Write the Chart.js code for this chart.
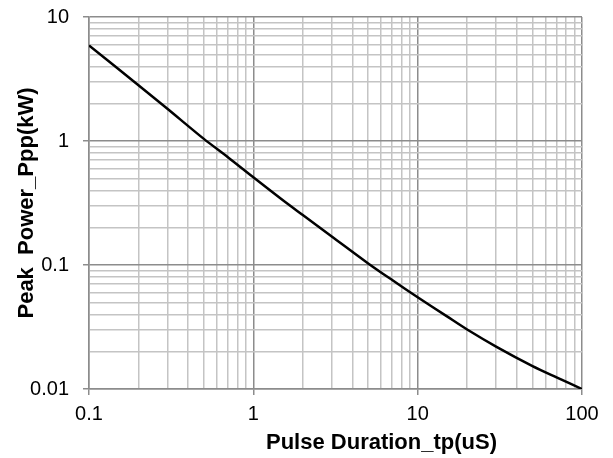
<!DOCTYPE html>
<html>
<head>
<meta charset="utf-8">
<script src="https://cdn.jsdelivr.net/npm/chart.js@4/dist/chart.umd.min.js"></script>
<style>
  html, body { margin: 0; padding: 0; background: #fff; }
  #wrap { width: 613px; height: 458px; }
</style>
</head>
<body>
<div id="wrap"><canvas id="myChart" width="613" height="458"></canvas></div>
<script>
// pulse duration tp (uS) and peak power Ppp (kW)
var pulseUs = [0.1, 0.2, 0.3, 0.5, 0.7, 1, 1.5, 2, 3, 5, 7, 10, 15, 20, 30, 50, 70, 100];
var peakKw  = [5.9, 2.82, 1.82, 1.04, 0.741, 0.51, 0.336, 0.253, 0.17, 0.103, 0.0756, 0.055, 0.0387, 0.0302, 0.022, 0.0153, 0.0124, 0.01];

var xDecades = [0.1, 1, 10, 100];
var yDecades = [0.01, 0.1, 1, 10];
var xTickLabels = ["0.1", "1", "10", "100"];
var yTickLabels = ["0.01", "0.1", "1", "10"];
var xTitle = "Pulse Duration_tp(uS)";
var yTitle = "Peak  Power_Ppp(kW)";

function logTicks(decades) {
    var out = [];
    for (var i = 0; i < decades.length; i++) {
        if (i == decades.length - 1) { out.push({ value: decades[i] }); break; }
        for (var m = 1; m < 10; m++) out.push({ value: +(decades[i] * m).toPrecision(3) });
    }
    return out;
}

function isDecade(v, decades) {
    return decades.some(d => Math.abs(v - d) < d * 1e-6);
}

var fam = "'Liberation Sans', Arial, sans-serif";

// the x title sits right of the plot centre in the original, so it is drawn by hand
var xTitlePlugin = {
    id: 'xTitle',
    afterDraw: function (chart) {
        var ctx = chart.ctx;
        var area = chart.chartArea;
        ctx.save();
        ctx.font = "bold 22px " + fam;
        ctx.fillStyle = '#000';
        ctx.textAlign = 'center';
        ctx.textBaseline = 'middle';
        ctx.fillText(xTitle, (area.left + area.right) / 2 + 46, chart.height - 15);
        ctx.restore();
    }
};

new Chart(document.getElementById('myChart'), {
    type: 'line',
    data: {
        datasets: [{
            data: pulseUs.map((x, i) => ({ x: x, y: peakKw[i] })),
            borderColor: '#000',
            borderWidth: 2.5,
            pointRadius: 0,
            tension: 0.3,
            fill: false
        }]
    },
    plugins: [xTitlePlugin],
    options: {
        responsive: false,
        animation: false,
        layout: { padding: { top: 17, right: 31, left: 0, bottom: 0 } },
        plugins: { legend: { display: false }, tooltip: { enabled: false } },
        scales: {
            x: {
                type: 'logarithmic',
                min: 0.1, max: 100,
                afterBuildTicks: (s) => { s.ticks = logTicks(xDecades); },
                afterFit: (s) => { s.height = 69; },
                ticks: {
                    autoSkip: false, maxRotation: 0, padding: 7, color: '#000',
                    font: { family: fam, size: 20 },
                    callback: function (v) {
                        var k = xDecades.findIndex(d => Math.abs(v - d) < d * 1e-6);
                        return k >= 0 ? xTickLabels[k] : '';
                    }
                },
                grid: {
                    color: (c) => isDecade(c.tick.value, xDecades) ? '#8c8c8c' : '#c4c4c4',
                    lineWidth: 1.5,
                    tickLength: 6,
                    tickColor: (c) => isDecade(c.tick.value, xDecades) ? '#8c8c8c' : 'rgba(0,0,0,0)'
                },
                border: { color: '#8c8c8c', width: 1.5 },
                title: { display: false }
            },
            y: {
                type: 'logarithmic',
                min: 0.01, max: 10,
                afterBuildTicks: (s) => { s.ticks = logTicks(yDecades); },
                afterFit: (s) => { s.width = 89; s.paddingTop = 0; s.paddingBottom = 0; },
                ticks: {
                    autoSkip: false, padding: 14, color: '#000',
                    font: { family: fam, size: 20 },
                    callback: function (v) {
                        var k = yDecades.findIndex(d => Math.abs(v - d) < d * 1e-6);
                        return k >= 0 ? yTickLabels[k] : '';
                    }
                },
                grid: {
                    color: (c) => isDecade(c.tick.value, yDecades) ? '#8c8c8c' : '#c4c4c4',
                    lineWidth: 1.5,
                    tickLength: 6,
                    tickColor: (c) => isDecade(c.tick.value, yDecades) ? '#8c8c8c' : 'rgba(0,0,0,0)'
                },
                border: { color: '#8c8c8c', width: 1.5 },
                title: {
                    display: true, text: yTitle, color: '#000',
                    font: { family: fam, size: 22, weight: 'bold' },
                    padding: { top: 14, bottom: 0 }
                }
            }
        }
    }
});
</script>
</body>
</html>
